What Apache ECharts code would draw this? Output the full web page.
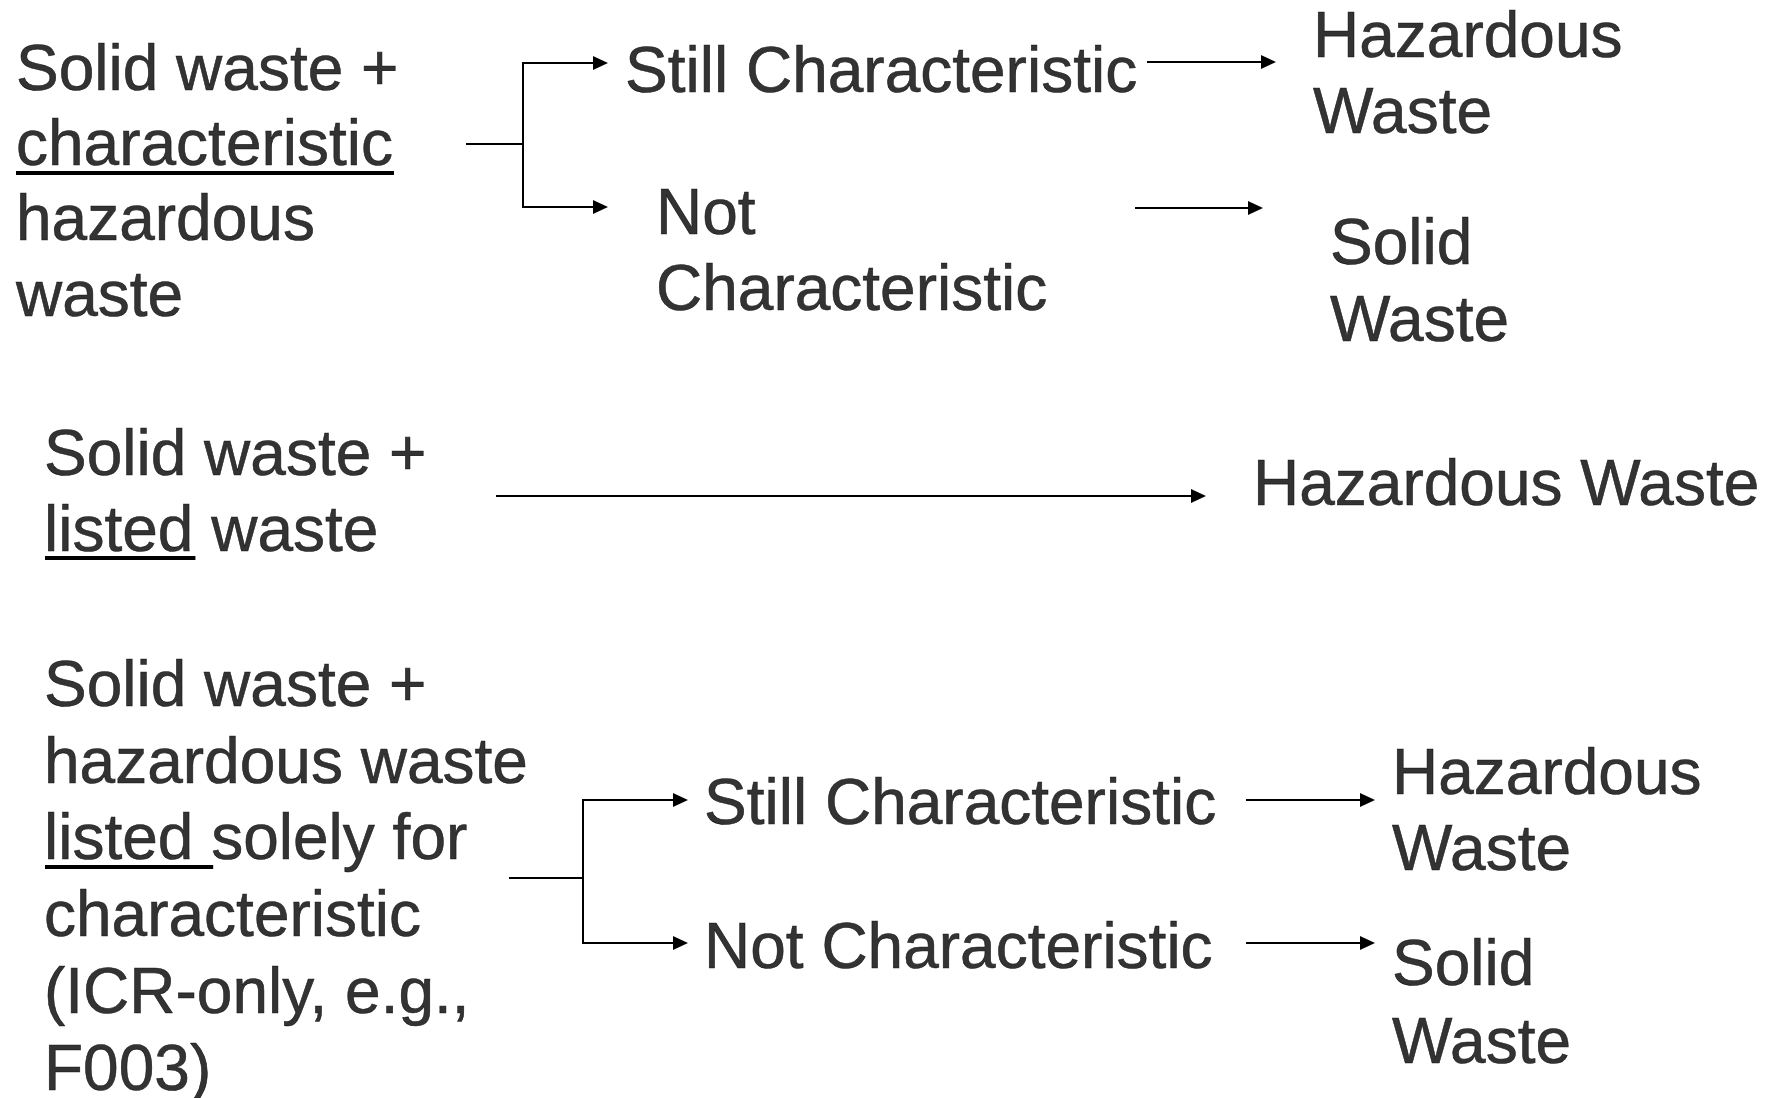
<!DOCTYPE html>
<html>
<head>
<meta charset="utf-8">
<script src="https://cdn.jsdelivr.net/npm/echarts@6/dist/echarts.min.js"></script>
<style>
html,body{margin:0;padding:0;background:#fff;}
#chart{width:1770px;height:1098px;}
</style>
</head>
<body>
<div id="chart"></div>
<script>
// ---- Diagram content (text) ----
const block1Source = ["Solid waste +", "characteristic", "hazardous", "waste"];
const block1Branches = ["Still Characteristic", "Not", "Characteristic"];
const block1Results = ["Hazardous", "Waste", "Solid", "Waste"];
const block2Source = ["Solid waste +", "listed waste"];
const block2Results = ["Hazardous Waste"];
const block3Source = ["Solid waste +", "hazardous waste", "listed solely for", "characteristic", "(ICR-only, e.g.,", "F003)"];
const block3Branches = ["Still Characteristic", "Not Characteristic"];
const block3Results = ["Hazardous", "Waste", "Solid", "Waste"];
const underlinedWords = ["characteristic", "listed", "listed "];

// ---- Layout (diagram units: x = text left, y = baseline) ----
const block1SourcePos = [[16, 88], [16, 163], [16, 238], [16, 314]];
const block1BranchPos = [[625, 90], [656, 232], [656, 308]];
const block1ResultPos = [[1313, 55], [1313, 131], [1330, 262], [1330, 339]];
const block2SourcePos = [[44, 473], [44, 549]];
const block2ResultPos = [[1253, 503]];
const block3SourcePos = [[44, 704], [44, 781], [44, 857], [44, 934], [44, 1011], [44, 1088]];
const block3BranchPos = [[704, 822], [704, 966]];
const block3ResultPos = [[1392, 792], [1392, 868], [1392, 983], [1392, 1061]];
const underlinePos = [[16, 173], [45, 558], [45, 867]]; // underline left / centre line
// connectors: [x1, y1, x2, y2, arrow(1/0)]
const connectors = [
  [467, 144, 523, 144, 0], [523, 63, 523, 207, 0],
  [523, 63, 608, 63, 1], [523, 207, 608, 207, 1],
  [1148, 62, 1276, 62, 1], [1136, 208, 1263, 208, 1],
  [497, 496, 1206, 496, 1],
  [510, 878, 583, 878, 0], [583, 800, 583, 943, 0],
  [583, 800, 688, 800, 1], [583, 943, 688, 943, 1],
  [1247, 800, 1375, 800, 1], [1247, 943, 1375, 943, 1]
];

const FONT_SIZE = 64;
const FONT_FAMILY = '"Liberation Sans", Arial, sans-serif';
const MID = 16; // baseline -> label centre offset

function pair(texts, pos) { return texts.map((t, i) => ({ name: t, value: [pos[i][0], pos[i][1] - MID] })); }
const textData = [].concat(
  pair(block1Source, block1SourcePos), pair(block1Branches, block1BranchPos), pair(block1Results, block1ResultPos),
  pair(block2Source, block2SourcePos), pair(block2Results, block2ResultPos),
  pair(block3Source, block3SourcePos), pair(block3Branches, block3BranchPos), pair(block3Results, block3ResultPos)
);

const cv = document.createElement('canvas').getContext('2d');
cv.font = FONT_SIZE + 'px ' + FONT_FAMILY;
const underlineData = underlinedWords.map((w, i) => {
  const wd = cv.measureText(w).width;
  const x = underlinePos[i][0], y = underlinePos[i][1];
  return [x, y, x + wd + 1, y, 0, 4];
});

const chart = echarts.init(document.getElementById('chart'), null, { renderer: 'canvas' });

function renderConnector(params, api) {
  const p1 = api.coord([api.value(0), api.value(1)]);
  const p2 = api.coord([api.value(2), api.value(3)]);
  const arrow = api.value(4) === 1;
  const lw = api.value(5) || 2;
  const children = [];
  const endX = arrow ? p2[0] - 10 : p2[0];
  children.push({
    type: 'line',
    shape: { x1: p1[0], y1: p1[1], x2: endX, y2: p2[1] },
    style: { stroke: '#000', lineWidth: lw, lineCap: lw > 2 ? 'butt' : 'square' }
  });
  if (arrow) {
    children.push({
      type: 'polygon',
      shape: { points: [[p2[0], p2[1]], [p2[0] - 15, p2[1] - 7], [p2[0] - 15, p2[1] + 7]] },
      style: { fill: '#000' }
    });
  }
  return { type: 'group', children: children };
}

chart.setOption({
  backgroundColor: '#ffffff',
  animation: false,
  grid: { left: 0, right: 0, top: 0, bottom: 0 },
  xAxis: { type: 'value', min: 0, max: 1770, show: false },
  yAxis: { type: 'value', min: 0, max: 1098, inverse: true, show: false },
  series: [
    { type: 'custom', renderItem: renderConnector, data: connectors.map(c => c.concat([2])), silent: true },
    { type: 'custom', renderItem: renderConnector, data: underlineData, silent: true },
    {
      type: 'scatter',
      symbolSize: 0,
      silent: true,
      data: textData,
      label: {
        show: true,
        position: 'right',
        distance: 0,
        formatter: p => p.name,
        fontSize: FONT_SIZE,
        fontFamily: FONT_FAMILY,
        color: '#000',
        textBorderColor: '#000',
        textBorderWidth: 0.6,
        align: 'left',
        verticalAlign: 'middle'
      }
    }
  ]
});
</script>
</body>
</html>
